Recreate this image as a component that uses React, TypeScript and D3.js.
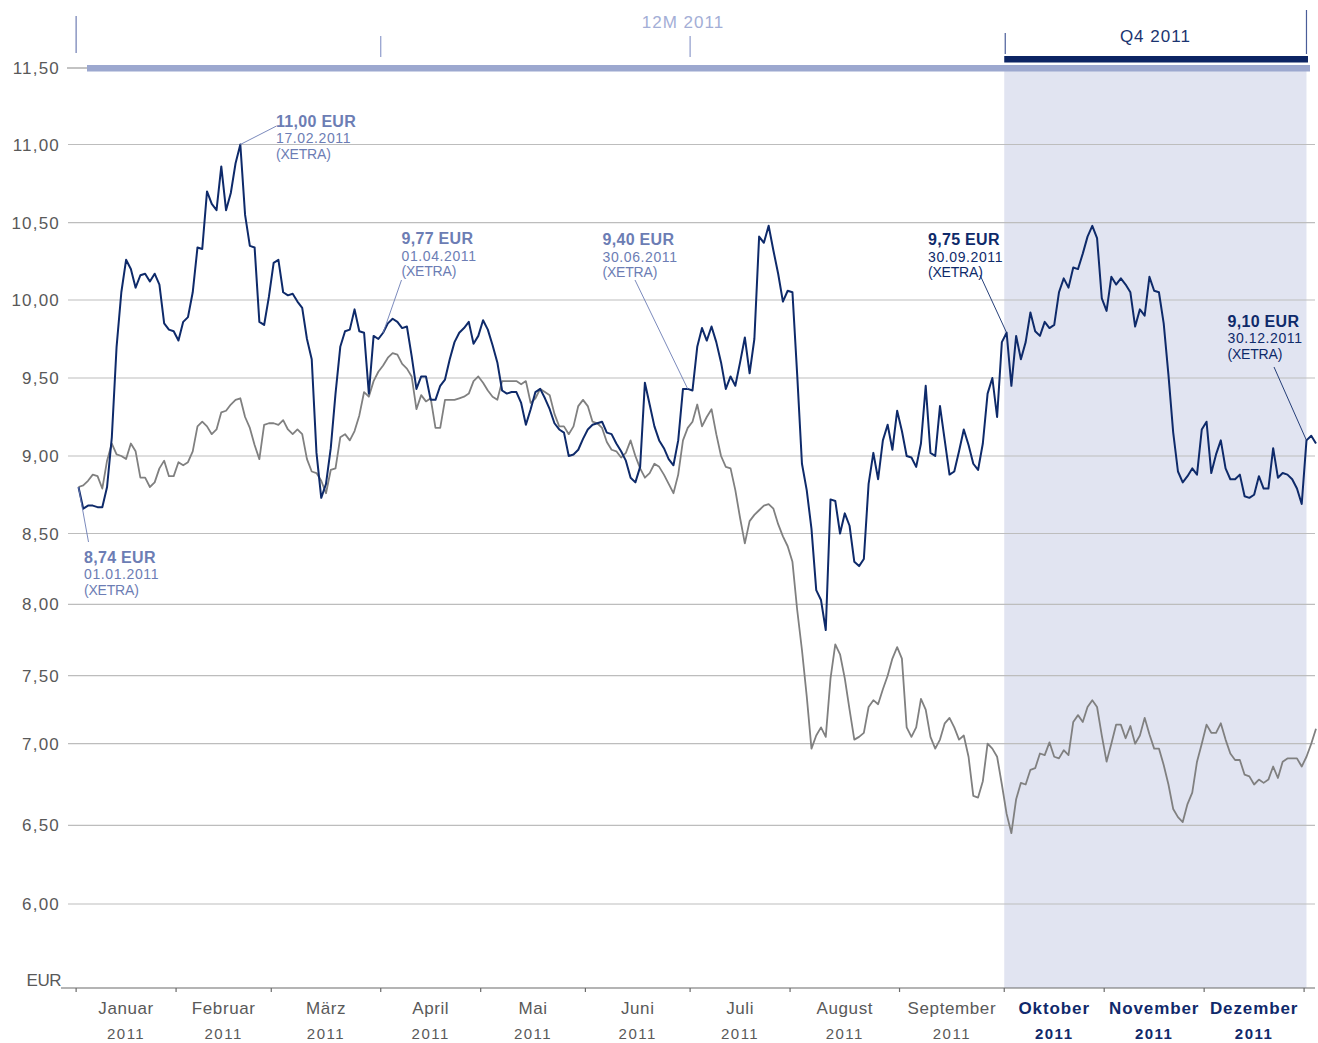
import * as d3 from 'd3';

// trading-day index 0..260, one close per day
const shareClose = [
  8.80, 8.66, 8.68, 8.68, 8.67, 8.67, 8.80, 9.12, 9.70, 10.05,
  10.26, 10.20, 10.08, 10.16, 10.17, 10.12, 10.17, 10.10, 9.85, 9.81,
  9.80, 9.74, 9.86, 9.89, 10.05, 10.34, 10.33, 10.70, 10.62, 10.58,
  10.86, 10.58, 10.69, 10.88, 11.00, 10.55, 10.35, 10.34, 9.86, 9.84,
  10.02, 10.24, 10.26, 10.05, 10.03, 10.04, 9.99, 9.95, 9.75, 9.62,
  9.02, 8.73, 8.82, 9.05, 9.40, 9.70, 9.80, 9.81, 9.94, 9.80,
  9.79, 9.40, 9.77, 9.75, 9.79, 9.85, 9.88, 9.86, 9.82, 9.83,
  9.64, 9.43, 9.51, 9.51, 9.36, 9.36, 9.45, 9.49, 9.62, 9.73,
  9.79, 9.82, 9.86, 9.72, 9.77, 9.87, 9.81, 9.71, 9.60, 9.42,
  9.40, 9.41, 9.41, 9.34, 9.20, 9.30, 9.41, 9.43, 9.37, 9.30,
  9.21, 9.17, 9.15, 9.00, 9.01, 9.04, 9.11, 9.17, 9.20, 9.21,
  9.22, 9.15, 9.14, 9.08, 9.03, 8.97, 8.86, 8.83, 8.93, 9.47,
  9.33, 9.19, 9.10, 9.05, 8.98, 8.94, 9.10, 9.43, 9.43, 9.42,
  9.70, 9.82, 9.74, 9.83, 9.73, 9.60, 9.43, 9.51, 9.45, 9.60,
  9.76, 9.53, 9.75, 10.41, 10.37, 10.48, 10.32, 10.17, 9.99, 10.06,
  10.05, 9.52, 8.95, 8.78, 8.53, 8.10, 8.03, 7.82, 8.72, 8.71,
  8.50, 8.63, 8.55, 8.30, 8.27, 8.32, 8.82, 9.02, 8.85, 9.10,
  9.20, 9.04, 9.29, 9.16, 9.00, 8.99, 8.93, 9.08, 9.45, 9.02,
  9.00, 9.32, 9.10, 8.88, 8.90, 9.03, 9.17, 9.07, 8.95, 8.91,
  9.08, 9.40, 9.50, 9.25, 9.73, 9.79, 9.45, 9.77, 9.62, 9.73,
  9.92, 9.80, 9.77, 9.86, 9.82, 9.84, 10.05, 10.14, 10.08, 10.21,
  10.20, 10.30, 10.41, 10.48, 10.40, 10.01, 9.93, 10.15, 10.10, 10.14,
  10.10, 10.05, 9.83, 9.94, 9.90, 10.15, 10.06, 10.05, 9.85, 9.52,
  9.15, 8.90, 8.83, 8.87, 8.92, 8.88, 9.17, 9.22, 8.89, 9.01,
  9.10, 8.92, 8.85, 8.85, 8.88, 8.74, 8.73, 8.75, 8.87, 8.79,
  8.79, 9.05, 8.86, 8.89, 8.88, 8.85, 8.79, 8.69, 9.10, 9.13,
  9.08,
];

// comparison index, rebased to the share price on day 0
const benchmarkClose = [
  8.80, 8.81, 8.84, 8.88, 8.87, 8.79, 8.97, 9.08, 9.01, 9.00,
  8.98, 9.08, 9.03, 8.86, 8.86, 8.80, 8.83, 8.92, 8.97, 8.87,
  8.87, 8.96, 8.94, 8.96, 9.03, 9.19, 9.22, 9.19, 9.14, 9.17,
  9.28, 9.29, 9.33, 9.36, 9.37, 9.25, 9.18, 9.07, 8.98, 9.20,
  9.21, 9.21, 9.20, 9.23, 9.17, 9.14, 9.17, 9.14, 8.98, 8.90,
  8.89, 8.84, 8.76, 8.91, 8.92, 9.12, 9.14, 9.10, 9.16, 9.26,
  9.41, 9.38, 9.48, 9.54, 9.58, 9.63, 9.66, 9.65, 9.59, 9.56,
  9.51, 9.30, 9.39, 9.35, 9.37, 9.18, 9.18, 9.36, 9.36, 9.36,
  9.37, 9.38, 9.40, 9.48, 9.51, 9.47, 9.42, 9.38, 9.36, 9.48,
  9.48, 9.48, 9.48, 9.46, 9.48, 9.34, 9.37, 9.43, 9.41, 9.39,
  9.27, 9.19, 9.19, 9.14, 9.19, 9.32, 9.36, 9.32, 9.22, 9.21,
  9.18, 9.09, 9.04, 9.03, 8.99, 9.02, 9.10, 9.00, 8.92, 8.86,
  8.89, 8.95, 8.93, 8.88, 8.82, 8.76, 8.88, 9.10, 9.18, 9.22,
  9.33, 9.19, 9.25, 9.30, 9.14, 9.00, 8.93, 8.92, 8.78, 8.60,
  8.43, 8.58, 8.62, 8.65, 8.68, 8.69, 8.66, 8.56, 8.48, 8.41,
  8.30, 7.96, 7.68, 7.35, 6.97, 7.06, 7.12, 7.05, 7.48, 7.72,
  7.65, 7.48, 7.25, 7.03, 7.05, 7.08, 7.27, 7.32, 7.29, 7.40,
  7.50, 7.62, 7.70, 7.62, 7.12, 7.05, 7.12, 7.33, 7.25, 7.05,
  6.97, 7.03, 7.15, 7.19, 7.12, 7.03, 7.06, 6.92, 6.68, 6.67,
  6.77, 7.00, 6.97, 6.92, 6.75, 6.57, 6.45, 6.66, 6.76, 6.75,
  6.84, 6.85, 6.94, 6.93, 7.01, 6.92, 6.91, 6.96, 6.93, 7.16,
  7.21, 7.16, 7.27, 7.32, 7.27, 7.06, 6.89, 7.00, 7.14, 7.14,
  7.04, 7.13, 7.00, 7.06, 7.19, 7.07, 6.97, 6.97, 6.87, 6.75,
  6.60, 6.55, 6.52, 6.63, 6.70, 6.89, 7.00, 7.14, 7.08, 7.08,
  7.15, 7.03, 6.94, 6.90, 6.90, 6.81, 6.80, 6.75, 6.78, 6.76,
  6.78, 6.86, 6.79, 6.89, 6.91, 6.91, 6.91, 6.86, 6.92, 7.00,
  7.11,
];

const monthNames = ['Januar', 'Februar', 'März', 'April', 'Mai', 'Juni', 'Juli', 'August', 'September', 'Oktober', 'November', 'Dezember'];
// first trading day of each month (+ end)
const monthStartDay = [0, 21, 41, 64, 85, 107, 129, 150, 173, 195, 216, 237, 258];
const yearLabel = '2011';
const yTickValues = [11.5, 11, 10.5, 10, 9.5, 9, 8.5, 8, 7.5, 7, 6.5, 6];
const yTickLabels = ['11,50', '11,00', '10,50', '10,00', '9,50', '9,00', '8,50', '8,00', '7,50', '7,00', '6,50', '6,00'];

const callouts = [
  { day: 34, price: '11,00 EUR', date: '17.02.2011', place: '(XETRA)', q4: false },
  { day: 64, price: '9,77 EUR', date: '01.04.2011', place: '(XETRA)', q4: false },
  { day: 128, price: '9,40 EUR', date: '30.06.2011', place: '(XETRA)', q4: false },
  { day: 195, price: '9,75 EUR', date: '30.09.2011', place: '(XETRA)', q4: true },
  { day: 258, price: '9,10 EUR', date: '30.12.2011', place: '(XETRA)', q4: true },
  { day: 0, price: '8,74 EUR', date: '01.01.2011', place: '(XETRA)', q4: false },
];

// label anchor (left, first baseline) and leader-line start, per callout
const calloutLayout = [
  { lx: 276, ly: 126.5, sx: 276.5, sy: 126 },
  { lx: 401.5, ly: 244, sx: 401.5, sy: 280 },
  { lx: 602.5, ly: 245, sx: 635, sy: 280 },
  { lx: 928, ly: 245, sx: 980, sy: 275 },
  { lx: 1227.5, ly: 326.5, sx: 1274, sy: 367 },
  { lx: 84, ly: 562.5, sx: 88.5, sy: 542 },
];

const W = 1318;
const H = 1043;
const FONT = "'Liberation Sans', Arial, Helvetica, sans-serif";
const NAVY = '#0e2a6a';
const LIGHT = '#6c7db4';

export default function App() {
  const x = d3.scaleLinear().domain([0, 260]).range([78.5, 1316]);
  // grid spacing in the source is slightly uneven, so the scale is piecewise
  const y = d3.scaleLinear()
    .domain([11.5, 11, 10.5, 10, 9.5, 9, 8.5, 8, 7.5, 7, 6.5, 6, 5.5])
    .range([68, 144.5, 222.7, 300, 378, 456, 533.5, 604.3, 675.7, 743.7, 825.3, 904, 982]);

  const line = d3.line<number>().x((_, i) => x(i)).y((d) => y(d));

  const gridLeft = 68;
  const gridRight = 1315;
  const axisY = 988;
  const q4Start = x(monthStartDay[9] - 0.5);
  const q4End = x(258);
  const tickX = monthStartDay.map((d) => x(d - 0.5));

  return (
    <svg width={W} height={H} style={{ position: 'absolute', left: 0, top: 0, background: '#fff' }} fontFamily={FONT}>
      {/* Q4 shading */}
      <rect x={q4Start} y={71} width={q4End - q4Start} height={axisY - 71} fill="#e1e4f1" />

      {/* grid */}
      {yTickValues.map((v, i) => (
        <g key={v}>
          {i > 0 && <line x1={gridLeft} x2={gridRight} y1={y(v)} y2={y(v)} stroke="#bdbdbd" strokeWidth={1.2} />}
          <text x={60} y={y(v) + 6} textAnchor="end" fontSize={17} fill="#595959" letterSpacing={1.2}>{yTickLabels[i]}</text>
        </g>
      ))}
      <line x1={67} x2={87} y1={y(11.5)} y2={y(11.5)} stroke="#9a9a9a" strokeWidth={1.2} />
      <text x={61} y={986} textAnchor="end" fontSize={17} fill="#595959" letterSpacing={-0.5}>EUR</text>

      {/* header: 12M bar and Q4 bar */}
      <rect x={87} y={65} width={1310 - 87} height={6.5} fill="#9ca8cf" />
      <rect x={q4Start} y={56} width={q4End - q4Start + 1.5} height={6.5} fill="#0c2463" />
      <line x1={tickX[0]} x2={tickX[0]} y1={16} y2={53} stroke="#6e7db3" strokeWidth={1.2} />
      <line x1={tickX[3]} x2={tickX[3]} y1={36} y2={57} stroke="#8e9bcb" strokeWidth={1.2} />
      <line x1={tickX[6]} x2={tickX[6]} y1={36} y2={57} stroke="#8e9bcb" strokeWidth={1.2} />
      <line x1={q4Start + 1} x2={q4Start + 1} y1={33} y2={54} stroke="#4a5d99" strokeWidth={1.2} />
      <line x1={q4End} x2={q4End} y1={10} y2={54} stroke="#4a5d99" strokeWidth={1.2} />
      <text x={683} y={28} textAnchor="middle" fontSize={17} fill="#a3aed6" letterSpacing={1}>12M 2011</text>
      <text x={(q4Start + q4End) / 2} y={42} textAnchor="middle" fontSize={17} fill="#1b3470" letterSpacing={1}>Q4 2011</text>

      {/* series */}
      <path d={line(benchmarkClose) ?? ''} fill="none" stroke="#808080" strokeWidth={1.8} strokeLinejoin="round" />
      <path d={line(shareClose) ?? ''} fill="none" stroke={NAVY} strokeWidth={2} strokeLinejoin="round" />

      {/* callouts */}
      {callouts.map((c, i) => {
        const l = calloutLayout[i];
        const col = c.q4 ? NAVY : LIGHT;
        return (
          <g key={c.date}>
            <line x1={l.sx} y1={l.sy} x2={x(c.day)} y2={y(shareClose[c.day])} stroke={col} strokeWidth={0.9} />
            <text x={l.lx} y={l.ly} fontSize={16} fontWeight="bold" fill={col} letterSpacing={0.3}>{c.price}</text>
            <text x={l.lx} y={l.ly + 16.5} fontSize={14} fill={col} letterSpacing={0.6}>{c.date}</text>
            <text x={l.lx} y={l.ly + 32} fontSize={14} fill={col} letterSpacing={-0.2}>{c.place}</text>
          </g>
        );
      })}

      {/* x axis */}
      <line x1={61} x2={gridRight} y1={axisY} y2={axisY} stroke="#6b6b6b" strokeWidth={1.2} />
      {tickX.map((tx, i) => (
        <line key={i} x1={tx} x2={tx} y1={axisY} y2={axisY + 4} stroke="#6b6b6b" strokeWidth={1.2} />
      ))}
      {monthNames.map((m, i) => {
        const cx = (tickX[i] + tickX[i + 1]) / 2;
        const q4 = i >= 9;
        return (
          <g key={m} fill={q4 ? '#10296b' : '#595959'} fontWeight={q4 ? 'bold' : 'normal'}>
            <text x={cx} y={1014} textAnchor="middle" fontSize={17} letterSpacing={q4 ? 0.9 : 0.6}>{m}</text>
            <text x={cx} y={1039} textAnchor="middle" fontSize={15} letterSpacing={1.5}>{yearLabel}</text>
          </g>
        );
      })}
    </svg>
  );
}
